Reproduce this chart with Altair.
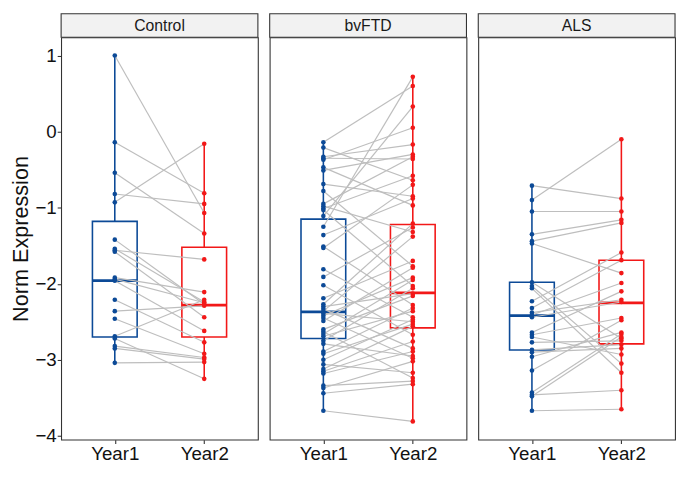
import altair as alt
import pandas as pd

diseases = ["Control", "bvFTD", "ALS"]
groups = ["Year1", "Year2"]

# paired values (same index = same subject)
control_year1 = [1.00, -0.14, -0.54, -0.82, -0.93, -1.42, -1.54, -1.56, -1.58, -1.92,
                 -1.94, -1.96, -2.21, -2.36, -2.46, -2.69, -2.72, -2.82, -2.85, -3.04]
control_year2 = [-1.07, -0.81, -1.34, -0.95, -0.16, -2.27, -2.24, -1.68, -2.44, -2.11,
                 -2.25, -2.62, -2.77, -2.29, -2.92, -2.21, -3.25, -2.97, -2.99, -3.03]

bvftd_year1 = [-0.14, -0.21, -0.33, -0.35, -0.37, -0.47, -0.51, -0.69, -0.78, -0.95,
               -0.98, -1.01, -1.03, -1.11, -1.25, -1.36, -1.51, -1.53, -1.81, -1.91,
               -2.02, -2.19, -2.27, -2.30, -2.33, -2.36, -2.39, -2.42, -2.45, -2.49,
               -2.60, -2.63, -2.66, -2.69, -2.75, -2.79, -2.89, -2.92, -3.00, -3.06,
               -3.12, -3.15, -3.18, -3.34, -3.37, -3.44, -3.67]
bvftd_year2 = [0.60, -0.64, -0.17, -0.36, 0.05, -0.97, -0.30, -0.85, -1.77, -0.33,
               -1.32, -0.58, -2.03, 0.33, 0.72, -0.88, -2.28, -0.70, -2.44, -1.26,
               -2.67, -1.70, -1.21, -2.13, -2.85, -1.38, -2.50, -1.92, -2.98, -1.79,
               -2.16, -3.24, -1.95, -2.36, -2.06, -2.95, -2.32, -2.53, -2.47, -3.17,
               -2.56, -2.76, -2.89, -3.28, -3.02, -3.32, -3.81]

als_year1 = [-0.71, -0.90, -1.05, -1.35, -1.44, -1.47, -1.98, -2.03, -2.06, -2.23,
             -2.32, -2.38, -2.41, -2.44, -2.64, -2.67, -2.70, -2.77, -2.87, -2.90,
             -2.96, -3.14, -3.43, -3.46, -3.48, -3.67]
als_year2 = [-0.88, -0.10, -1.05, -1.16, -1.20, -1.86, -2.72, -3.05, -3.17, -1.59,
             -1.69, -2.21, -1.99, -2.24, -2.10, -2.45, -2.93, -2.75, -2.80, -2.85,
             -2.64, -2.48, -2.66, -3.40, -2.70, -3.65]

# box summaries: lower whisker, q1, median, q3, upper whisker
box_stats = {
    ("Control", "Year1"): [-3.04, -2.70, -1.96, -1.18, 1.00],
    ("Control", "Year2"): [-3.25, -2.70, -2.28, -1.52, -0.16],
    ("bvFTD", "Year1"): [-3.67, -2.72, -2.37, -1.15, -0.14],
    ("bvFTD", "Year2"): [-3.81, -2.58, -2.12, -1.22, 0.72],
    ("ALS", "Year1"): [-3.67, -2.87, -2.42, -1.98, -0.71],
    ("ALS", "Year2"): [-3.65, -2.79, -2.25, -1.69, -0.10],
}

series = {
    "Control": (control_year1, control_year2),
    "bvFTD": (bvftd_year1, bvftd_year2),
    "ALS": (als_year1, als_year2),
}

rows = []
for d, (y1, y2) in series.items():
    for i, (a, b) in enumerate(zip(y1, y2)):
        rows.append({"disease": d, "pid": f"{d}{i}", "group": "Year1", "value": a})
        rows.append({"disease": d, "pid": f"{d}{i}", "group": "Year2", "value": b})
points_df = pd.DataFrame(rows)

box_df = pd.DataFrame([
    {"disease": d, "group": g, "lower": s[0], "q1": s[1], "median": s[2], "q3": s[3], "upper": s[4]}
    for (d, g), s in box_stats.items()
])

BLUE = "#0C4A97"
RED = "#F21818"
GREY = "#BEBEBE"
W, H = 200, 409
STRIP = 24
step = W / 2.2
box_w = step * 0.5


def panel(name, first):
    pts = points_df[points_df.disease == name]
    bx = box_df[box_df.disease == name]
    xenc = alt.X("group:N", scale=alt.Scale(type="point", domain=groups, padding=0.6),
                 axis=alt.Axis(title=None, labelAngle=0))
    yscale = alt.Scale(domain=[-4.05, 1.24], nice=False, zero=False)
    if first:
        yaxis = alt.Axis(title="Norm Expression", values=[-4, -3, -2, -1, 0, 1], format="d")
    else:
        yaxis = None
    stroke = alt.Stroke("group:N", scale=alt.Scale(domain=groups, range=[BLUE, RED]), legend=None)
    color = alt.Color("group:N", scale=alt.Scale(domain=groups, range=[BLUE, RED]), legend=None)

    strip = alt.Chart(pd.DataFrame({"t": [name]})).mark_rect(
        fill="#F2F2F2", stroke="#333333", strokeWidth=1.1
    ).encode(x=alt.value(0), x2=alt.value(W), y=alt.value(-STRIP), y2=alt.value(0))
    strip_text = alt.Chart(pd.DataFrame({"t": [name]})).mark_text(
        fontSize=16, color="#1A1A1A", baseline="middle", align="center"
    ).encode(x=alt.value(W / 2), y=alt.value(-STRIP / 2 + 1), text="t:N")

    box = alt.Chart(bx).mark_bar(size=box_w, fill="white", fillOpacity=0, strokeWidth=1.6).encode(
        x=xenc, y=alt.Y("q1:Q", scale=yscale, axis=yaxis), y2="q3:Q", stroke=stroke)
    whisk_hi = alt.Chart(bx).mark_rule(strokeWidth=1.6).encode(
        x=xenc, y=alt.Y("q3:Q", scale=yscale, axis=yaxis), y2="upper:Q", color=color)
    whisk_lo = alt.Chart(bx).mark_rule(strokeWidth=1.6).encode(
        x=xenc, y=alt.Y("lower:Q", scale=yscale, axis=yaxis), y2="q1:Q", color=color)
    med = alt.Chart(bx).mark_tick(size=box_w, thickness=2.8, opacity=1).encode(
        x=xenc, y=alt.Y("median:Q", scale=yscale, axis=yaxis), color=color)
    lines = alt.Chart(pts).mark_line(color=GREY, strokeWidth=1.2).encode(
        x=xenc, y=alt.Y("value:Q", scale=yscale, axis=yaxis), detail="pid:N")
    dots = alt.Chart(pts).mark_circle(size=22, opacity=1).encode(
        x=xenc, y=alt.Y("value:Q", scale=yscale, axis=yaxis), color=color)

    return alt.layer(strip, strip_text, box, whisk_hi, whisk_lo, med, lines, dots).properties(
        width=W, height=H)


chart = alt.hconcat(*[panel(d, i == 0) for i, d in enumerate(diseases)], spacing=8).properties(
    padding=0
).configure(
    font="Liberation Sans", padding=0
).configure_view(
    stroke="#333333", strokeWidth=1.1
).configure_axis(
    grid=False, domain=False, tickSize=4, tickColor="#333333", tickWidth=1.1,
    labelFontSize=19, labelColor="#111111", labelPadding=1,
    titleFontSize=22, titleFontWeight="normal", titleColor="#111111", titlePadding=3,
)

chart.save("out.html", embed_options={"renderer": "svg", "actions": False})
